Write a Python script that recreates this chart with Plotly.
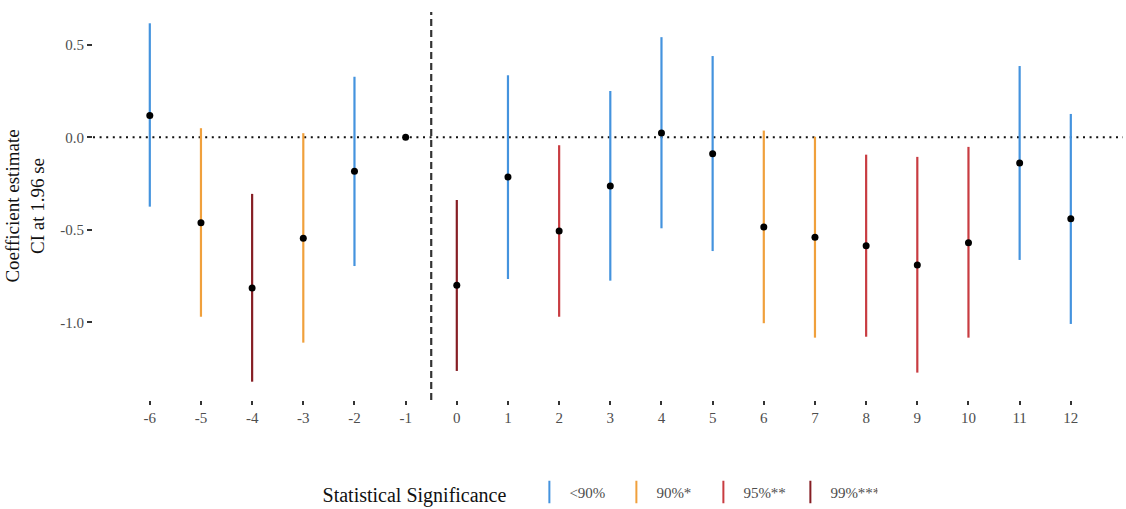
import plotly.graph_objects as go

periods = [-6, -5, -4, -3, -2, -1, 0, 1, 2, 3, 4, 5, 6, 7, 8, 9, 10, 11, 12]
estimate = [0.117, -0.462, -0.815, -0.546, -0.184, 0.0, -0.800, -0.215, -0.506, -0.263,
            0.023, -0.089, -0.485, -0.541, -0.586, -0.690, -0.570, -0.139, -0.440]
ci_low = [-0.375, -0.970, -1.321, -1.110, -0.696, 0.0, -1.263, -0.766, -0.970, -0.775,
          -0.492, -0.615, -1.005, -1.083, -1.078, -1.272, -1.083, -0.663, -1.009]
ci_high = [0.616, 0.049, -0.306, 0.022, 0.327, 0.0, -0.339, 0.335, -0.043, 0.250,
           0.541, 0.439, 0.036, 0.003, -0.094, -0.106, -0.052, 0.385, 0.126]
significance = ["<90%", "90%*", "99%***", "90%*", "<90%", "<90%", "99%***", "<90%", "95%**", "<90%",
                "<90%", "<90%", "90%*", "90%*", "95%**", "95%**", "95%**", "<90%", "<90%"]
levels = ["<90%", "90%*", "95%**", "99%***"]
level_colors = ["#4493de", "#f0a03c", "#c83c41", "#861e24"]

y_tickvals = [-1.0, -0.5, 0.0, 0.5]
y_ticktext = ["-1.0", "-0.5", "0.0", "0.5"]
x_ticktext = [str(p) for p in periods]

serif = "Liberation Serif, Times New Roman, serif"

fig = go.Figure()

# reference lines
fig.add_hline(y=0, line=dict(color="#111111", width=2, dash="2px,4.6px"), layer="below")
fig.add_vline(x=-0.5, line=dict(color="#333333", width=2.2, dash="7px,4px"), layer="below")

for lev, col in zip(levels, level_colors):
    xs, ys = [], []
    for p, lo, hi, s in zip(periods, ci_low, ci_high, significance):
        if s == lev:
            xs += [p, p, None]
            ys += [lo, hi, None]
    fig.add_trace(go.Scatter(x=xs, y=ys, mode="lines", line=dict(color=col, width=2.2),
                             showlegend=False, hoverinfo="skip"))
    fig.add_trace(go.Scatter(x=[None], y=[None], mode="markers", name=lev,
                             marker=dict(symbol="line-ns", size=24, color=col,
                                         line=dict(color=col, width=2))))

fig.add_trace(go.Scatter(x=periods, y=estimate, mode="markers",
                         marker=dict(color="black", size=7), showlegend=False))

fig.update_layout(
    width=1126, height=509,
    margin=dict(l=93, r=3, t=12, b=109),
    plot_bgcolor="white", paper_bgcolor="white",
    font=dict(family=serif, color="#4d4d4d", size=15),
    xaxis=dict(range=[-7.11, 13.02], tickvals=periods, ticktext=x_ticktext,
               showgrid=False, zeroline=False, showline=False,
               ticks="outside", ticklen=4, tickwidth=1.5, tickcolor="#333333",
               tickfont=dict(family=serif, size=15, color="#4d4d4d")),
    yaxis=dict(range=[-1.42, 0.677], tickvals=y_tickvals, ticktext=y_ticktext,
               showgrid=False, zeroline=False, showline=False,
               ticks="outside", ticklen=5, tickwidth=1.5, tickcolor="#333333",
               tickfont=dict(family=serif, size=15, color="#4d4d4d"),
               title=dict(text="Coefficient estimate<br>CI at 1.96 se",
                          font=dict(family=serif, size=19, color="#111111"), standoff=10)),
    legend=dict(orientation="h", xref="container", yref="container",
                x=0.532, xanchor="center", y=0.03, yanchor="middle",
                title=dict(text="Statistical Significance   ", side="left",
                           font=dict(family=serif, size=20, color="#111111")),
                font=dict(family=serif, size=15, color="#4d4d4d"),
                entrywidth=42, entrywidthmode="pixels", itemwidth=30),
)

fig.write_html("out.html")
